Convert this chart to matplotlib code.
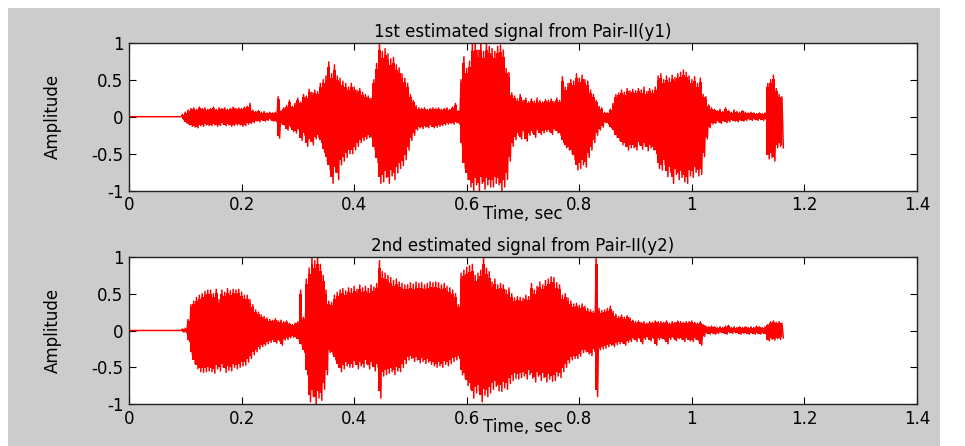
import numpy as np
import matplotlib.pyplot as plt
from matplotlib.patches import Rectangle

# envelope peaks, one value every 5 ms starting at 0.095 s
t_start = 0.095
dt = 0.005

y1_pos = [0.03, 0.06, 0.09, 0.11, 0.12, 0.10, 0.13, 0.11, 0.12, 0.10,
          0.11, 0.13, 0.10, 0.12, 0.11, 0.12, 0.10, 0.11, 0.13, 0.11,
          0.12, 0.11, 0.13, 0.14, 0.18, 0.09, 0.07, 0.08, 0.06, 0.07,
          0.05, 0.06, 0.05, 0.06, 0.27, 0.08, 0.12, 0.15, 0.22, 0.14,
          0.18, 0.25, 0.20, 0.30, 0.28, 0.37, 0.33, 0.36, 0.34, 0.45,
          0.50, 0.55, 0.74, 0.58, 0.70, 0.55, 0.52, 0.48, 0.45, 0.40,
          0.45, 0.40, 0.36, 0.38, 0.33, 0.30, 0.28, 0.25, 0.50, 0.72,
          1.00, 0.88, 0.92, 0.85, 0.78, 0.80, 0.70, 0.66, 0.58, 0.52,
          0.45, 0.30, 0.22, 0.15, 0.12, 0.11, 0.12, 0.10, 0.11, 0.12,
          0.11, 0.12, 0.10, 0.11, 0.12, 0.10, 0.13, 0.18, 0.08, 0.50,
          0.81, 0.65, 0.75, 0.98, 1.00, 0.90, 1.00, 0.88, 1.00, 0.95,
          0.92, 0.88, 0.95, 0.97, 0.90, 0.65, 0.60, 0.32, 0.28, 0.24,
          0.30, 0.22, 0.25, 0.20, 0.24, 0.21, 0.25, 0.22, 0.20, 0.23,
          0.22, 0.24, 0.20, 0.25, 0.22, 0.54, 0.40, 0.45, 0.50, 0.48,
          0.58, 0.52, 0.56, 0.50, 0.48, 0.36, 0.30, 0.22, 0.14, 0.12,
          0.06, 0.05, 0.10, 0.18, 0.30, 0.32, 0.36, 0.33, 0.38, 0.35,
          0.37, 0.35, 0.38, 0.36, 0.40, 0.34, 0.38, 0.36, 0.40, 0.55,
          0.58, 0.50, 0.55, 0.52, 0.56, 0.53, 0.58, 0.60, 0.63, 0.60,
          0.55, 0.50, 0.54, 0.45, 0.52, 0.30, 0.27, 0.16, 0.12, 0.10,
          0.08, 0.10, 0.07, 0.12, 0.08, 0.06, 0.09, 0.07, 0.06, 0.08,
          0.06, 0.05, 0.06, 0.05, 0.04, 0.05, 0.04, 0.05, 0.45, 0.50,
          0.56, 0.38, 0.30, 0.27]
y1_neg = [0.04, 0.08, 0.11, 0.13, 0.14, 0.15, 0.12, 0.13, 0.11, 0.12,
          0.12, 0.11, 0.13, 0.12, 0.10, 0.12, 0.11, 0.13, 0.12, 0.11,
          0.11, 0.13, 0.12, 0.10, 0.09, 0.08, 0.06, 0.07, 0.05, 0.06,
          0.05, 0.04, 0.06, 0.07, 0.29, 0.10, 0.12, 0.18, 0.14, 0.20,
          0.22, 0.18, 0.32, 0.25, 0.40, 0.33, 0.38, 0.30, 0.28, 0.35,
          0.48, 0.60, 0.72, 0.90, 0.75, 0.85, 0.65, 0.60, 0.55, 0.50,
          0.50, 0.45, 0.40, 0.35, 0.32, 0.30, 0.28, 0.30, 0.45, 0.62,
          0.90, 0.88, 0.82, 0.90, 0.80, 0.85, 0.76, 0.70, 0.66, 0.58,
          0.45, 0.32, 0.25, 0.18, 0.15, 0.16, 0.14, 0.15, 0.13, 0.15,
          0.14, 0.13, 0.12, 0.11, 0.10, 0.09, 0.10, 0.08, 0.10, 0.40,
          0.70, 0.85, 0.95, 1.00, 0.92, 1.00, 0.90, 0.98, 0.92, 0.95,
          0.95, 0.90, 0.92, 1.00, 0.95, 0.85, 0.60, 0.40, 0.31, 0.25,
          0.30, 0.22, 0.33, 0.25, 0.22, 0.28, 0.20, 0.24, 0.22, 0.20,
          0.20, 0.24, 0.18, 0.22, 0.25, 0.35, 0.42, 0.45, 0.50, 0.58,
          0.72, 0.70, 0.65, 0.68, 0.55, 0.45, 0.35, 0.25, 0.18, 0.14,
          0.08, 0.10, 0.15, 0.20, 0.28, 0.32, 0.38, 0.40, 0.45, 0.42,
          0.42, 0.45, 0.38, 0.44, 0.40, 0.46, 0.42, 0.45, 0.50, 0.70,
          0.72, 0.65, 0.81, 0.75, 0.90, 0.78, 0.85, 0.82, 0.88, 0.90,
          0.80, 0.82, 0.75, 0.80, 0.78, 0.54, 0.30, 0.15, 0.10, 0.09,
          0.07, 0.09, 0.06, 0.08, 0.07, 0.05, 0.06, 0.07, 0.05, 0.06,
          0.05, 0.04, 0.05, 0.04, 0.05, 0.04, 0.05, 0.04, 0.57, 0.55,
          0.60, 0.42, 0.40, 0.42]

y2_pos = [0.02, 0.03, 0.15, 0.35, 0.40, 0.45, 0.48, 0.50, 0.53, 0.55,
          0.55, 0.50, 0.56, 0.42, 0.55, 0.52, 0.57, 0.54, 0.56, 0.55,
          0.56, 0.52, 0.48, 0.48, 0.42, 0.35, 0.28, 0.25, 0.21, 0.19,
          0.17, 0.15, 0.14, 0.16, 0.13, 0.14, 0.12, 0.13, 0.10, 0.08,
          0.10, 0.12, 0.55, 0.18, 0.70, 0.85, 1.00, 0.95, 1.00, 0.90,
          0.75, 0.55, 0.40, 0.38, 0.48, 0.52, 0.55, 0.57, 0.54, 0.58,
          0.57, 0.60, 0.56, 0.62, 0.58, 0.60, 0.57, 0.62, 0.59, 0.64,
          0.95, 0.80, 0.78, 0.75, 0.72, 0.68, 0.70, 0.66, 0.64, 0.62,
          0.62, 0.65, 0.63, 0.66, 0.64, 0.65, 0.62, 0.64, 0.66, 0.65,
          0.66, 0.65, 0.62, 0.64, 0.60, 0.58, 0.55, 0.50, 0.35, 0.78,
          0.82, 0.86, 0.88, 0.90, 0.75, 0.78, 0.82, 1.00, 0.85, 0.80,
          0.66, 0.70, 0.62, 0.64, 0.62, 0.55, 0.58, 0.50, 0.44, 0.46,
          0.45, 0.44, 0.48, 0.46, 0.64, 0.55, 0.60, 0.66, 0.62, 0.68,
          0.70, 0.73, 0.72, 0.65, 0.62, 0.48, 0.50, 0.44, 0.40, 0.36,
          0.37, 0.34, 0.36, 0.33, 0.30, 0.28, 0.26, 1.00, 0.30, 0.27,
          0.28, 0.30, 0.33, 0.26, 0.22, 0.19, 0.21, 0.18, 0.20, 0.17,
          0.14, 0.12, 0.13, 0.11, 0.12, 0.10, 0.12, 0.11, 0.13, 0.12,
          0.12, 0.11, 0.13, 0.10, 0.12, 0.11, 0.13, 0.12, 0.11, 0.12,
          0.12, 0.13, 0.11, 0.10, 0.12, 0.08, 0.06, 0.05, 0.06, 0.05,
          0.04, 0.05, 0.04, 0.06, 0.07, 0.04, 0.05, 0.04, 0.05, 0.04,
          0.05, 0.04, 0.05, 0.04, 0.06, 0.05, 0.04, 0.05, 0.08, 0.12,
          0.13, 0.11, 0.12, 0.10]
y2_neg = [0.02, 0.03, 0.15, 0.33, 0.45, 0.52, 0.56, 0.57, 0.56, 0.55,
          0.56, 0.58, 0.52, 0.55, 0.50, 0.57, 0.54, 0.55, 0.50, 0.52,
          0.50, 0.48, 0.47, 0.43, 0.38, 0.33, 0.29, 0.25, 0.22, 0.20,
          0.18, 0.16, 0.15, 0.17, 0.14, 0.20, 0.13, 0.12, 0.10, 0.09,
          0.10, 0.13, 0.20, 0.30, 0.60, 0.97, 0.90, 1.00, 0.92, 0.95,
          0.80, 0.60, 0.30, 0.32, 0.40, 0.50, 0.56, 0.52, 0.48, 0.50,
          0.50, 0.46, 0.52, 0.48, 0.50, 0.45, 0.52, 0.47, 0.55, 0.50,
          0.92, 0.62, 0.60, 0.58, 0.56, 0.60, 0.55, 0.56, 0.50, 0.45,
          0.40, 0.38, 0.42, 0.40, 0.44, 0.42, 0.45, 0.43, 0.46, 0.48,
          0.50, 0.48, 0.50, 0.46, 0.48, 0.45, 0.42, 0.40, 0.38, 0.60,
          0.65, 0.75, 0.80, 0.92, 0.85, 0.82, 0.97, 0.88, 0.90, 0.85,
          0.80, 0.76, 0.82, 0.83, 0.78, 0.80, 0.72, 0.68, 0.65, 0.66,
          0.64, 0.62, 0.66, 0.60, 0.65, 0.70, 0.62, 0.68, 0.64, 0.70,
          0.66, 0.69, 0.68, 0.62, 0.64, 0.56, 0.50, 0.44, 0.40, 0.38,
          0.38, 0.35, 0.30, 0.29, 0.32, 0.34, 0.28, 0.90, 0.26, 0.25,
          0.24, 0.22, 0.20, 0.22, 0.19, 0.18, 0.17, 0.20, 0.16, 0.15,
          0.12, 0.15, 0.11, 0.18, 0.12, 0.10, 0.14, 0.11, 0.20, 0.12,
          0.11, 0.13, 0.18, 0.12, 0.10, 0.14, 0.11, 0.12, 0.15, 0.12,
          0.14, 0.15, 0.12, 0.14, 0.20, 0.08, 0.04, 0.05, 0.04, 0.05,
          0.04, 0.03, 0.04, 0.05, 0.03, 0.04, 0.03, 0.04, 0.05, 0.04,
          0.04, 0.05, 0.04, 0.05, 0.04, 0.05, 0.04, 0.05, 0.14, 0.12,
          0.13, 0.11, 0.12, 0.10]

titles = ['1st estimated signal from Pair-II(y1)', '2nd estimated signal from Pair-II(y2)']
xticks = [0, 0.2, 0.4, 0.6, 0.8, 1.0, 1.2, 1.4]
xtick_labels = ['0', '0.2', '0.4', '0.6', '0.8', '1', '1.2', '1.4']
yticks = [-1, -0.5, 0, 0.5, 1]
ytick_labels = ['-1', '-0.5', '0', '0.5', '1']


def waveform(pos, neg):
    # alternate positive and negative peaks, half a step apart
    n = len(pos)
    tp = t_start + dt * np.arange(n)
    t = np.empty(2 * n)
    y = np.empty(2 * n)
    t[0::2] = tp
    t[1::2] = tp + dt / 2
    y[0::2] = pos
    y[1::2] = -np.array(neg)
    # silent lead-in before the speech starts
    t = np.concatenate([[0.0, t_start - dt / 2], t])
    y = np.concatenate([[0.0, 0.0], y])
    return tp, t, y


plt.rcParams['font.family'] = 'DejaVu Sans'
plt.rcParams['axes.unicode_minus'] = False
fs = 12

fig = plt.figure(figsize=(9.65, 4.46), dpi=100, facecolor='white')
fig.patches.append(Rectangle((8 / 965, 0), 932 / 965, 438 / 446,
                             transform=fig.transFigure, facecolor='#cccccc',
                             edgecolor='none', zorder=-10))

ax1 = fig.add_axes([129 / 965, 1 - 190.7 / 446, 788 / 965, 148 / 446])
ax2 = fig.add_axes([129 / 965, 1 - 404 / 446, 788 / 965, 147 / 446])

for ax, pos, neg, title in [(ax1, y1_pos, y1_neg, titles[0]), (ax2, y2_pos, y2_neg, titles[1])]:
    tp, t, y = waveform(pos, neg)
    # dense body of the signal, then the peaks on top
    ax.fill_between(tp, -0.9 * np.array(neg), 0.9 * np.array(pos), step='mid',
                    color='red', lw=0)
    ax.plot(t, y, color='red', lw=1.1)
    ax.set_xlim(0, 1.4)
    ax.set_ylim(-1, 1)
    ax.set_xticks(xticks)
    ax.set_xticklabels(xtick_labels)
    ax.set_yticks(yticks)
    ax.set_yticklabels(ytick_labels)
    ax.tick_params(direction='in', length=5, width=0.8, top=True, right=True,
                   labelsize=fs, pad=4)
    for s in ax.spines.values():
        s.set_linewidth(1.0)
        s.set_color('#222222')
    ax.set_title(title, fontsize=fs, pad=4)
    ax.set_xlabel('Time, sec', fontsize=fs)
    ax.set_ylabel('Amplitude', fontsize=fs)
    ax.yaxis.set_label_coords(-0.085, 0.5)
    ax.xaxis.set_label_coords(0.5, -0.095)
    ax.xaxis.label.set_va('top')

fig.savefig('out.png', dpi=100, facecolor=fig.get_facecolor())
